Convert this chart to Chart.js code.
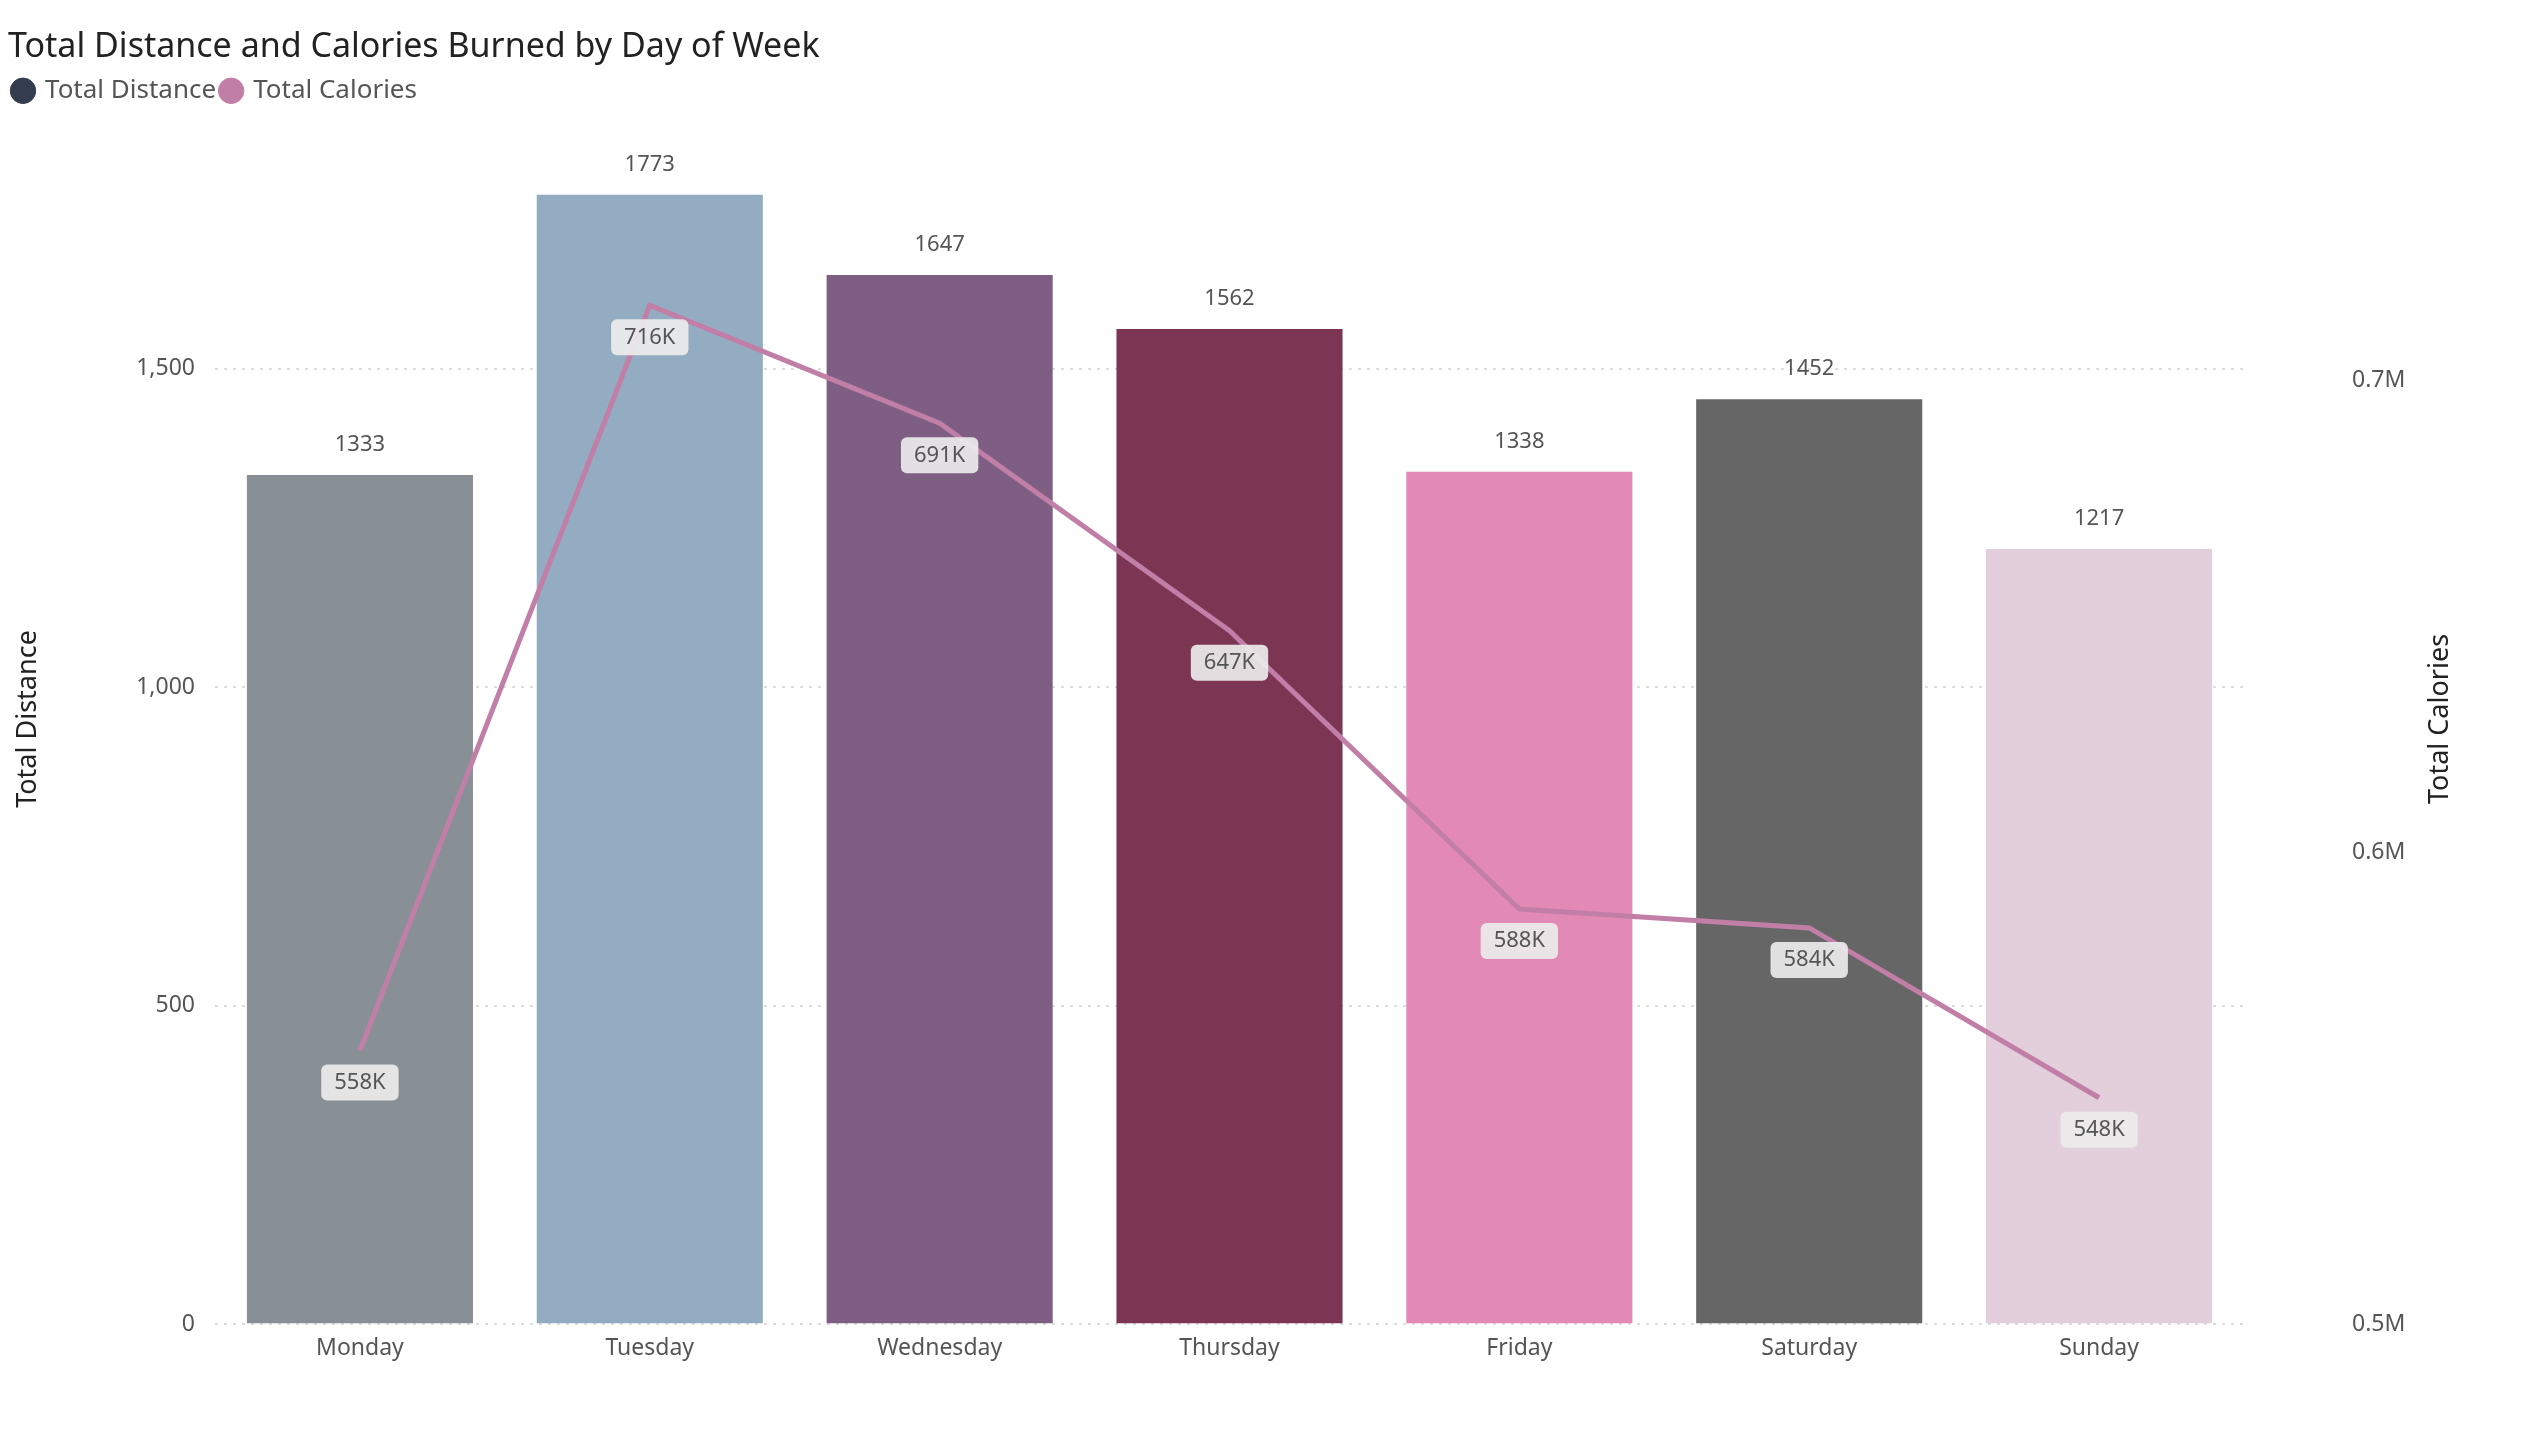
<!DOCTYPE html>
<html><head><meta charset="utf-8">
<script src="https://cdn.jsdelivr.net/npm/chart.js@4"></script>
<style>html,body{margin:0;padding:0;background:#fff;overflow:hidden}#w{width:2521px;height:1438px}</style>
</head><body><div id="w"><canvas id="c"></canvas></div>
<script>
const days=["Monday","Tuesday","Wednesday","Thursday","Friday","Saturday","Sunday"];
const distance=[1333,1773,1647,1562,1338,1452,1217];
const calories=[558000,716000,691000,647000,588000,584000,548000];
const calLabels=["558K","716K","691K","647K","588K","584K","548K"];
const distTicks=[0,500,1000,1500];
const calTicks=[500000,600000,700000];
const barColors=["#889096","#93ACC1","#7F5E83","#7C3654","#E389B5","#666666","#E3CEDB"];
const F="'Noto Sans', 'DejaVu Sans', sans-serif";
const labelPlugin={id:'lbl',afterDatasetsDraw(ch){
 const ctx=ch.ctx;ctx.save();ctx.font="22px "+F;ctx.textAlign='center';ctx.textBaseline='middle';
 ch.getDatasetMeta(1).data.forEach((b,i)=>{ctx.fillStyle='#555';ctx.fillText(String(distance[i]),b.x,b.y-30);});
 ch.getDatasetMeta(0).data.forEach((p,i)=>{const t=calLabels[i];const w=ctx.measureText(t).width+26,h=36,y=p.y+32;
  ctx.fillStyle='rgba(235,235,235,0.92)';ctx.beginPath();ctx.roundRect(p.x-w/2,y-h/2,w,h,6);ctx.fill();
  ctx.fillStyle='#555';ctx.fillText(t,p.x,y);});
 const a=ch.chartArea;ctx.save();ctx.translate(2440,(a.top+a.bottom)/2);ctx.rotate(-Math.PI/2);
 ctx.font="27px "+F;ctx.fillStyle='#222';ctx.fillText('Total Calories',0,0);ctx.restore();
 ctx.restore();}};
new Chart(document.getElementById('c'),{
 data:{labels:days,datasets:[
  {type:'line',label:'Total Calories',data:calories,yAxisID:'y1',borderColor:'#C17FA8',backgroundColor:'#C17FA8',borderWidth:5,pointRadius:0,tension:0,order:0},
  {type:'bar',label:'Total Distance',data:distance,yAxisID:'y',backgroundColor:barColors,barPercentage:0.78,categoryPercentage:1,order:1}
 ]},
 options:{responsive:true,maintainAspectRatio:false,animation:false,
  layout:{padding:{left:8,right:10,top:0,bottom:0}},
  plugins:{
   title:{display:true,text:'Total Distance and Calories Burned by Day of Week',align:'start',color:'#222',font:{family:F,size:34,weight:'normal'},padding:{top:0,bottom:4}},
   legend:{align:'start',labels:{usePointStyle:true,pointStyle:'circle',boxWidth:18,boxHeight:18,color:'#555',font:{family:F,size:26},padding:6,
    generateLabels(ch){return [{text:'Total Distance',fillStyle:'#333D4D',strokeStyle:'#333D4D',pointStyle:'circle',datasetIndex:1,fontColor:'#555'},{text:'Total Calories',fillStyle:'#C17FA8',strokeStyle:'#C17FA8',pointStyle:'circle',datasetIndex:0,fontColor:'#555'}];}}},
   tooltip:{enabled:false}},
  scales:{
   x:{grid:{display:false},border:{display:false},afterFit:s=>{s.height=42;},ticks:{color:'#555',font:{family:F,size:23},padding:2}},
   y:{position:'left',min:0,max:1900,afterFit:s=>{s.width=207;},afterBuildTicks:s=>{s.ticks=distTicks.map(v=>({value:v}));},
      ticks:{color:'#555',font:{family:F,size:23},padding:20,callback:v=>v.toLocaleString('en-US')},
      grid:{color:'#ddd',lineWidth:2,drawTicks:false},border:{display:false,dash:[3,6]},
      title:{display:true,text:'Total Distance',color:'#222',font:{family:F,size:27}}},
   y1:{position:'right',min:500000,max:756600,afterFit:s=>{s.width=267;},afterBuildTicks:s=>{s.ticks=calTicks.map(v=>({value:v}));},
      ticks:{color:'#555',font:{family:F,size:23},padding:100,callback:v=>(v/1e6).toFixed(1)+'M'},
      grid:{display:false},border:{display:false}}
  }},
 plugins:[labelPlugin]});
</script></body></html>
